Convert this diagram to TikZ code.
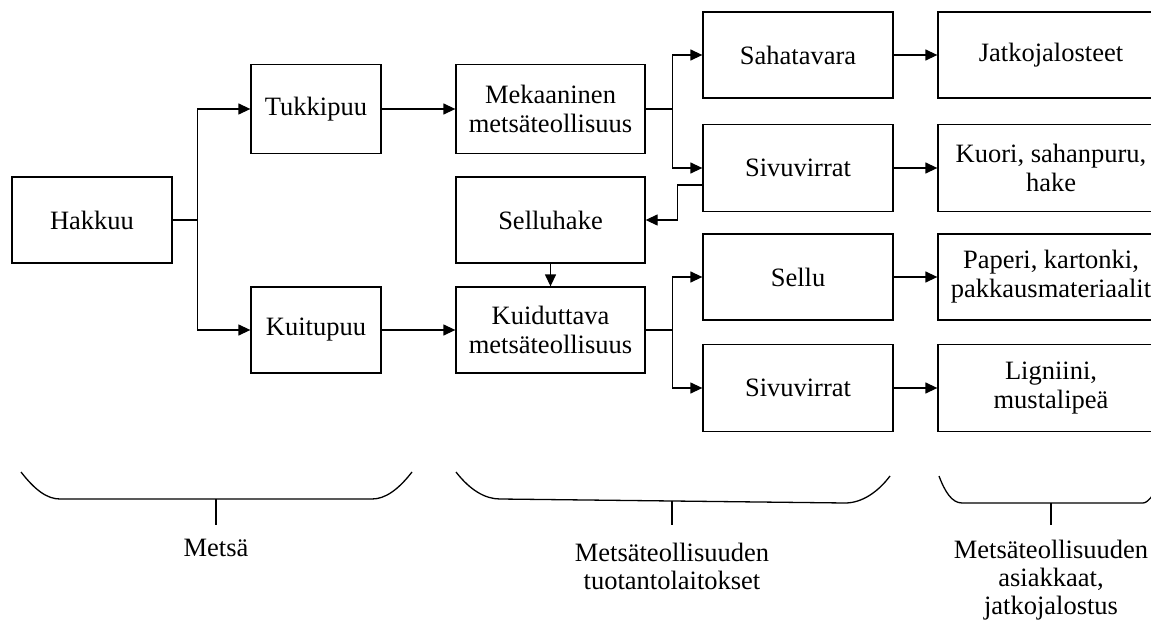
\documentclass[tikz,border=0pt]{standalone}
\usepackage{fontspec}
\setmainfont{Liberation Serif}
\usetikzlibrary{arrows.meta}
\begin{document}
\begin{tikzpicture}[x=1pt,y=-1pt,
  line width=1.3pt,
  box/.style={draw, line width=1.3pt, align=center, inner sep=0pt,
    font=\fontsize{26.5}{29}\selectfont, minimum height=86pt},
  col1/.style={box, minimum width=160pt},
  col2/.style={box, minimum width=130pt},
  col3/.style={box, minimum width=189pt},
  col4/.style={box, minimum width=190pt},
  col5/.style={box, minimum width=226pt},
  arr/.style={-{Triangle[length=12pt,width=11pt]}},
  lbl/.style={align=center, font=\fontsize{26.5}{28}\selectfont}]
\useasboundingbox (0,0) rectangle (1151,623);
\fill[white] (0,0) rectangle (1151,623);
\begin{scope}
\clip (0,0) rectangle (1151,623);
\node[col1] (hakkuu) at (92,220) {Hakkuu};
\node[col2, minimum height=89pt] (tukki) at (316,109) {Tukkipuu};
\node[col2] (kuitu) at (316,330) {Kuitupuu};
\node[col3, minimum height=89pt] (mek) at (550.5,109) {Mekaaninen\\metsäteollisuus};
\node[col3] (sellh) at (550.5,220) {Selluhake};
\node[col3] (kuid) at (550.5,330) {Kuiduttava\\metsäteollisuus};
\node[col4] (saha) at (798,55) {Sahatavara};
\node[col4, minimum height=87pt] (siv1) at (798,168) {Sivuvirrat};
\node[col4] (sellu) at (798,277) {Sellu};
\node[col4, minimum height=87pt] (siv2) at (798,388) {Sivuvirrat};
\node[col5] (jatko) at (1051,55) {Jatkojalosteet};
\node[col5, minimum height=87pt] (kuori) at (1051,168) {Kuori, sahanpuru,\\hake};
\node[col5] (paperi) at (1051,277) {Paperi, kartonki,\\pakkausmateriaalit};
\node[col5, minimum height=87pt] (lign) at (1051,388) {Ligniini,\\mustalipeä};

\draw (hakkuu.east) -- ++(25,0) coordinate (s1);
\draw[arr] (s1) |- (tukki.west);
\draw[arr] (s1) |- (kuitu.west);
\draw[arr] (tukki.east) -- (mek.west);
\draw[arr] (kuitu.east) -- (kuid.west);
\draw (mek.east) -- ++(27,0) coordinate (s2);
\draw[arr] (s2) |- (saha.west);
\draw[arr] (s2) |- (siv1.west);
\draw (kuid.east) -- ++(27,0) coordinate (s3);
\draw[arr] (s3) |- (sellu.west);
\draw[arr] (s3) |- (siv2.west);
\draw[arr] ([yshift=-17pt]siv1.west) -- ++(-25,0) |- (sellh.east);
\draw[arr] (sellh.south) -- (kuid.north);
\draw[arr] (saha.east) -- (jatko.west);
\draw[arr] (siv1.east) -- (kuori.west);
\draw[arr] (sellu.east) -- (paperi.west);
\draw[arr] (siv2.east) -- (lign.west);

\draw (21,472) .. controls (35,490) and (47,499) .. (60,499) -- (372,499)
  .. controls (385,499) and (398,490) .. (412,472);
\draw (216,499) -- (216,525);
\node[lbl] (l1) at (216,548) {Metsä};
\draw (456,472) .. controls (470,490) and (485,499) .. (500,499) -- (845,503)
  .. controls (862,503) and (878,492) .. (890,476);
\draw (672,501) -- (672,525);
\node[lbl] (l2) at (672,566) {Metsäteollisuuden\\tuotantolaitokset};
\draw (939,476) .. controls (945,492) and (952,503) .. (962,503) -- (1143,503)
  .. controls (1146,503) and (1149,500) .. (1153,495);
\draw (1051,503) -- (1051,525);
\node[lbl] (l3) at (1051,580) {Metsäteollisuuden\\asiakkaat,\\jatkojalostus};
\end{scope}
\end{tikzpicture}
\end{document}
